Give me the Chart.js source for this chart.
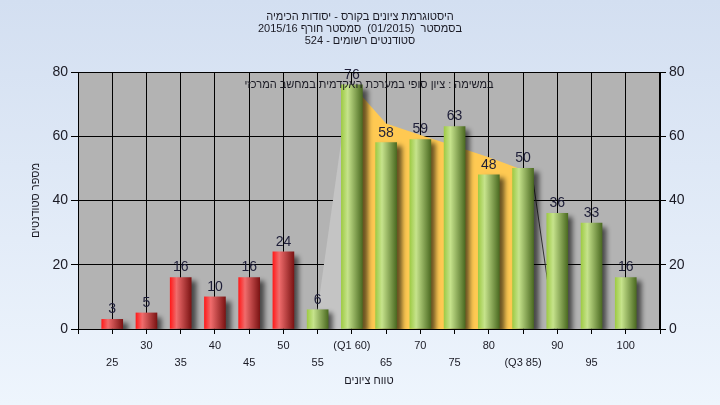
<!DOCTYPE html>
<html dir="ltr">
<head>
<meta charset="utf-8">
<script src="https://cdn.jsdelivr.net/npm/chart.js@4/dist/chart.umd.min.js"></script>
<style>
  html, body { margin: 0; padding: 0; }
  body { width: 720px; height: 405px; background: linear-gradient(#d3dff1, #eef5fd); }
  #wrap { width: 720px; height: 405px; }
</style>
</head>
<body>
<div id="wrap"><canvas id="histChart"></canvas></div>
<script>
// score bins and number of students per bin
const scores = [25, 30, 35, 40, 45, 50, 55, 60, 65, 70, 75, 80, 85, 90, 95, 100];
const counts = [3, 5, 16, 10, 16, 24, 6, 76, 58, 59, 63, 48, 50, 36, 33, 16];
const tickLabels = ['25', '30', '35', '40', '45', '50', '55', '(Q1 60)', '65', '70', '75', '80', '(Q3 85)', '90', '95', '100'];
const passMark = 55;

// quartile band (Q1..Q3) drawn behind the bars
const bandX = [60, 65, 70, 75, 80, 85];
const bandY = [76, 64, 60.4, 57, 53.5, 49.5];
// light grey side of the band and the dark edge line on the right
const sideX = [54.6, 59.6];
const sideY = [0, 76];
const edgeX = [86.4, 89.6];
const edgeY = [47, 0];

const titleLines = [
  'היסטוגרמת ציונים בקורס - יסודות הכימיה',
  'בסמסטר  (01/2015)  סמסטר חורף 2015/16',
  'סטודנטים רשומים - 524'
];
const noteText = 'במשימה : ציון סופי במערכת האקדמית במחשב המרכזי';
const xTitle = 'טווח ציונים';
const yTitle = 'מספר סטודנטים';

const FONT = '"Liberation Sans", Arial, sans-serif';
const TEXT = '#1a1a24';
const barW = 21;
const redStops = [[0, '#ff1c1c'], [0.3, '#f06c6c'], [1, '#7c1414']];
const greenStops = [[0, '#9fcb46'], [0.3, '#c6e38c'], [1, '#4c6b22']];

function drawRtl(ctx, text, cx, cy) {
  ctx.direction = 'rtl';
  ctx.textAlign = 'center';
  ctx.textBaseline = 'middle';
  ctx.fillText(text, cx, cy);
}

function barFill(c) {
  const chart = c.chart;
  const i = c.dataIndex;
  const stops = scores[i] >= passMark ? greenStops : redStops;
  if (!chart.chartArea || !chart.scales.x) return stops[1][1];
  const px = chart.scales.x.getPixelForValue(scores[i]);
  const g = chart.ctx.createLinearGradient(px - barW / 2, 0, px + barW / 2, 0);
  stops.forEach(s => g.addColorStop(s[0], s[1]));
  return g;
}

const plotBg = {
  id: 'plotBg',
  beforeDraw(chart) {
    const { ctx, chartArea: a } = chart;
    ctx.save();
    ctx.fillStyle = '#b3b3b3';
    ctx.fillRect(a.left, a.top, a.right - a.left, a.bottom - a.top);
    ctx.restore();
  },
  afterDraw(chart) {
    const { ctx, chartArea: a } = chart;
    const mid = (a.left + a.right) / 2;
    ctx.save();
    ctx.strokeStyle = '#000';
    ctx.lineWidth = 1;
    ctx.strokeRect(a.left + 0.5, a.top + 0.5, a.right - a.left - 1, a.bottom - a.top);
    ctx.fillStyle = TEXT;
    ctx.font = '11px ' + FONT;
    drawRtl(ctx, noteText, mid, a.top + 13);
    titleLines.forEach((line, i) => drawRtl(ctx, line, chart.width / 2, 17 + i * 12));
    drawRtl(ctx, xTitle, mid, 381);
    ctx.restore();
  }
};

const barShadow = {
  id: 'barShadow',
  beforeDatasetDraw(chart, args) {
    if (args.index !== 0) return;
    const ctx = chart.ctx;
    ctx.save();
    ctx.shadowColor = 'rgba(0,0,0,0.6)';
    ctx.shadowOffsetX = 5;
    ctx.shadowOffsetY = 4;
    ctx.shadowBlur = 5;
  },
  afterDatasetDraw(chart, args) {
    if (args.index !== 0) return;
    chart.ctx.restore();
  }
};

const valueLabels = {
  id: 'valueLabels',
  afterDatasetsDraw(chart) {
    const ctx = chart.ctx;
    const meta = chart.getDatasetMeta(0);
    ctx.save();
    ctx.fillStyle = '#1e1e38';
    ctx.font = '14px ' + FONT;
    ctx.textAlign = 'center';
    ctx.textBaseline = 'bottom';
    meta.data.forEach((bar, i) => {
      ctx.fillText(String(counts[i]), bar.x, bar.y - 3);
    });
    ctx.restore();
  }
};

const bars = scores.map((s, i) => ({ x: s, y: counts[i] }));
const band = bandX.map((x, i) => ({ x, y: bandY[i] }));
const side = sideX.map((x, i) => ({ x, y: sideY[i] }));
const edge = edgeX.map((x, i) => ({ x, y: edgeY[i] }));

new Chart(document.getElementById('histChart'), {
  type: 'bar',
  data: {
    datasets: [
      { data: bars, backgroundColor: barFill, barThickness: barW, borderWidth: 0, order: 0 },
      { type: 'line', data: band, fill: 'origin', backgroundColor: '#ffc952', borderWidth: 0, pointRadius: 0, order: 1 },
      { type: 'line', data: side, fill: 'origin', backgroundColor: '#c4c4c4', borderWidth: 0, pointRadius: 0, order: 2 },
      { type: 'line', data: edge, fill: false, borderColor: '#333', borderWidth: 1, pointRadius: 0, order: 1 }
    ]
  },
  options: {
    responsive: true,
    maintainAspectRatio: false,
    animation: false,
    layout: { padding: { top: 72 } },
    plugins: {
      legend: { display: false },
      tooltip: { enabled: false },
      title: { display: false }
    },
    scales: {
      x: {
        type: 'linear',
        min: 20,
        max: 105,
        offset: false,
        afterFit: s => { s.height = 76; },
        ticks: {
          stepSize: 5,
          autoSkip: false,
          maxRotation: 0,
          minRotation: 0,
          color: TEXT,
          padding: 3,
          font: { family: FONT, size: 11, lineHeight: 1.55 },
          callback: v => {
            const i = scores.indexOf(v);
            if (i < 0) return '';
            return i % 2 === 0 ? ['', tickLabels[i]] : [tickLabels[i], ''];
          }
        },
        grid: { color: '#000', tickLength: 5, tickColor: '#000', offset: false },
        border: { color: '#000' }
      },
      y: {
        position: 'left',
        min: 0,
        max: 80,
        afterFit: s => { s.width = 78; },
        ticks: { stepSize: 20, color: TEXT, padding: 3, font: { family: FONT, size: 14 } },
        grid: { color: '#000', tickLength: 7, tickColor: '#000' },
        border: { color: '#000' },
        title: { display: true, text: yTitle, color: TEXT, font: { family: FONT, size: 11 }, padding: { top: 29, bottom: 0 } }
      },
      y2: {
        position: 'right',
        min: 0,
        max: 80,
        afterFit: s => { s.width = 60; },
        ticks: { stepSize: 20, color: TEXT, padding: 3, font: { family: FONT, size: 14 } },
        grid: { drawOnChartArea: false, tickLength: 6, tickColor: '#000' },
        border: { color: '#000' }
      }
    }
  },
  plugins: [plotBg, barShadow, valueLabels]
});
</script>
</body>
</html>
